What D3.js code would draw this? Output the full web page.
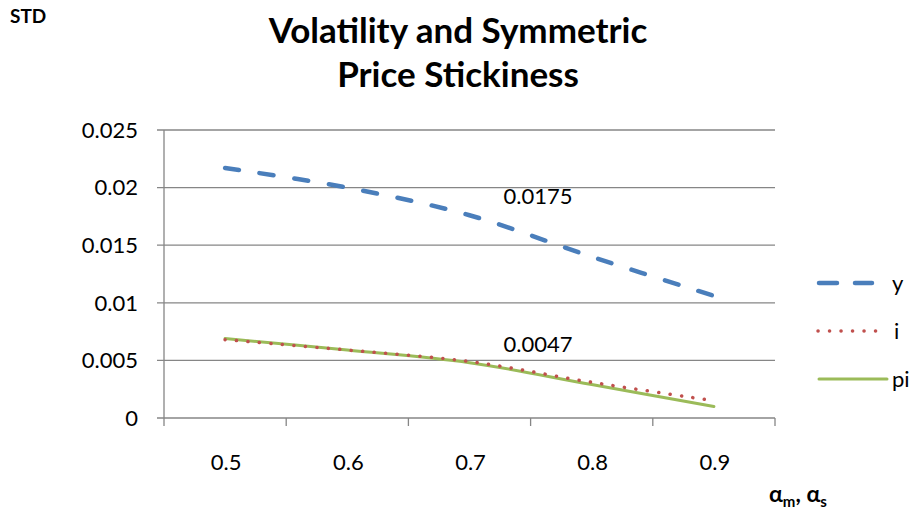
<!DOCTYPE html>
<html>
<head>
<meta charset="utf-8">
<script src="https://cdn.jsdelivr.net/npm/d3@7"></script>
<style>
  body { margin: 0; background: #fff; }
  text { font-family: Lato, "Open Sans", sans-serif; fill: #000; }
</style>
</head>
<body>
<svg id="chart" width="917" height="518"></svg>
<script>
// Volatility vs symmetric price stickiness (alpha_m = alpha_s)
const categories = ["0.5", "0.6", "0.7", "0.8", "0.9"];
const yValues  = [0.0217, 0.0200, 0.0176, 0.0140, 0.0106];
const iValues  = [0.0068, 0.0059, 0.0049, 0.0031, 0.0015];
const piValues = [0.0069, 0.0059, 0.0048, 0.0029, 0.0010];
const yTicks = [0, 0.005, 0.01, 0.015, 0.02, 0.025];
const tickLabels = ["0", "0.005", "0.01", "0.015", "0.02", "0.025"];
const dataLabels = [{ text: "0.0175", value: 0.0175 }, { text: "0.0047", value: 0.0047 }];

(function() {
  const svg = d3.select("#chart");
  const left = 164, right = 775, top = 130, bottom = 418;
  const grid = "#868686";

  const x = d3.scaleBand().domain(categories).range([left, right]);
  const y = d3.scaleLinear().domain([0, 0.025]).range([bottom, top]);
  const cx = c => x(c) + x.bandwidth() / 2;

  // gridlines
  svg.append("g").selectAll("line")
    .data(yTicks)
    .join("line")
    .attr("x1", left - 7).attr("x2", right)
    .attr("y1", d => y(d)).attr("y2", d => y(d))
    .attr("stroke", grid).attr("stroke-width", 1.3);

  // y axis line
  svg.append("line")
    .attr("x1", left).attr("x2", left)
    .attr("y1", top).attr("y2", bottom + 8)
    .attr("stroke", grid).attr("stroke-width", 1.3);

  // x tick marks at category boundaries
  const bounds = categories.map(c => x(c) + x.bandwidth());
  svg.append("g").selectAll("line")
    .data(bounds)
    .join("line")
    .attr("x1", d => d).attr("x2", d => d)
    .attr("y1", bottom).attr("y2", bottom + 8)
    .attr("stroke", grid).attr("stroke-width", 1.3);

  // y tick labels
  svg.append("g").selectAll("text")
    .data(yTicks)
    .join("text")
    .attr("x", 138)
    .attr("y", d => y(d))
    .attr("dy", "0.35em")
    .attr("text-anchor", "end")
    .style("font-size", "22px")
    .text((d, i) => tickLabels[i]);

  // x tick labels
  svg.append("g").selectAll("text")
    .data(categories)
    .join("text")
    .attr("x", d => cx(d) + 1)
    .attr("y", 462)
    .attr("dy", "0.35em")
    .attr("text-anchor", "middle")
    .style("font-size", "22px")
    .text(d => d);

  const line = d3.line()
    .x((d, i) => cx(categories[i]))
    .y(d => y(d))
    .curve(d3.curveCatmullRom.alpha(0.5));

  const series = [
    { name: "y", values: yValues, color: "#4a7ebb", width: 4.5, dash: "14,21", ly: 283 },
    { name: "i", values: iValues, color: "#c0504d", width: 3.5, dash: "0.1,11.4", ly: 331 },
    { name: "pi", values: piValues, color: "#9bbb59", width: 3, dash: null, ly: 379 }
  ];

  // draw pi first, then i on top, then y
  [series[2], series[1], series[0]].forEach(s => {
    svg.append("path")
      .datum(s.values)
      .attr("d", line)
      .attr("fill", "none")
      .attr("stroke", s.color)
      .attr("stroke-width", s.width)
      .attr("stroke-linecap", "round")
      .attr("stroke-dasharray", s.dash);
  });

  // data labels
  svg.append("g").selectAll("text")
    .data(dataLabels)
    .join("text")
    .attr("x", 538)
    .attr("y", d => y(d.value) - 20)
    .attr("dy", "0.35em")
    .attr("text-anchor", "middle")
    .style("font-size", "22px")
    .text(d => d.text);

  // legend
  const lg = svg.append("g");
  series.forEach(s => {
    lg.append("line")
      .attr("x1", s.name === "i" ? 818 : 819)
      .attr("x2", s.name === "y" ? 872 : (s.name === "i" ? 878 : 887))
      .attr("y1", s.ly).attr("y2", s.ly)
      .attr("stroke", s.color)
      .attr("stroke-width", s.width)
      .attr("stroke-linecap", "round")
      .attr("stroke-dasharray", s.name === "y" ? "18,18" : s.dash);
    lg.append("text")
      .attr("x", s.name === "i" ? 894 : 892)
      .attr("y", s.ly)
      .attr("dy", "0.35em")
      .style("font-size", "22px")
      .text(s.name);
  });

  // title
  const title = svg.append("text")
    .attr("text-anchor", "middle")
    .style("font-size", "35px")
    .style("font-weight", "bold");
  title.append("tspan").attr("x", 458).attr("y", 43).text("Volatility and Symmetric");
  title.append("tspan").attr("x", 458).attr("y", 87).text("Price Stickiness");

  // axis titles
  svg.append("text")
    .attr("x", 10).attr("y", 23)
    .style("font-size", "19px")
    .style("font-weight", "bold")
    .text("STD");

  const xt = svg.append("text")
    .attr("x", 769).attr("y", 502)
    .style("font-size", "23px")
    .style("font-weight", "bold");
  xt.append("tspan").text("α");
  xt.append("tspan").attr("dy", 5).style("font-size", "15px").text("m");
  xt.append("tspan").attr("dy", -5).text(", α");
  xt.append("tspan").attr("dy", 5).style("font-size", "15px").text("s");
})();
</script>
</body>
</html>
